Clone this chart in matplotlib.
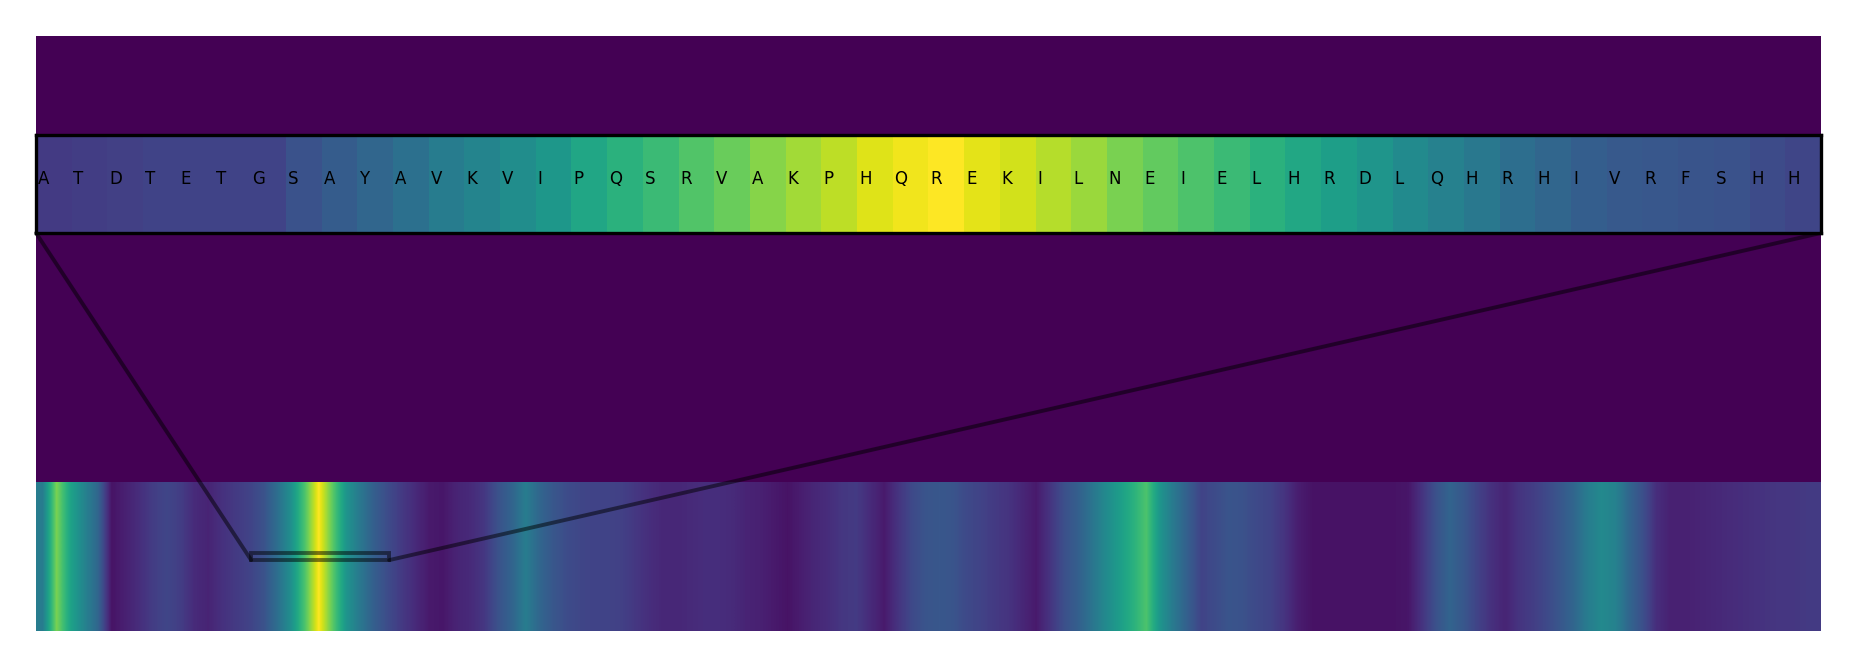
import numpy as np
import matplotlib
matplotlib.use("Agg")
import matplotlib.pyplot as plt
from matplotlib.patches import Rectangle, ConnectionPatch

# ---- data ----
seq_length = 647
bin_size = 5  # residues per track value
track_scores = [
    0.42, 0.80, 0.58, 0.45, 0.33, 0.05, 0.09, 0.13, 0.18, 0.21,
    0.18, 0.12, 0.10, 0.14, 0.17, 0.20, 0.25, 0.36, 0.50, 0.72,
    1.00, 0.75, 0.52, 0.40, 0.30, 0.23, 0.17, 0.12, 0.07, 0.06,
    0.10, 0.12, 0.16, 0.25, 0.32, 0.42, 0.33, 0.27, 0.23, 0.21,
    0.20, 0.20, 0.19, 0.16, 0.13, 0.11, 0.11, 0.12, 0.13, 0.13,
    0.12, 0.10, 0.09, 0.07, 0.05, 0.08, 0.11, 0.13, 0.16, 0.17,
    0.12, 0.07, 0.15, 0.22, 0.26, 0.27, 0.26, 0.22, 0.20, 0.17,
    0.15, 0.11, 0.07, 0.15, 0.24, 0.30, 0.38, 0.47, 0.55, 0.63,
    0.72, 0.52, 0.40, 0.30, 0.20, 0.23, 0.26, 0.25, 0.22, 0.20,
    0.15, 0.08, 0.05, 0.05, 0.05, 0.05, 0.05, 0.05, 0.05, 0.06,
    0.15, 0.25, 0.32, 0.27, 0.20, 0.14, 0.10, 0.15, 0.18, 0.22,
    0.27, 0.33, 0.42, 0.47, 0.44, 0.33, 0.24, 0.13, 0.09, 0.09,
    0.10, 0.11, 0.12, 0.13, 0.14, 0.15, 0.16, 0.16, 0.17, 0.17,
]

window_start = 78
window_residues = list("ATDTETGSAYAVKVIPQSRVAKPHQREKILNEIELHRDLQHRHIVRFSHH")
window_scores = [
    0.17, 0.18, 0.19, 0.20, 0.20, 0.20, 0.20, 0.25, 0.29, 0.33,
    0.37, 0.42, 0.45, 0.49, 0.53, 0.59, 0.64, 0.68, 0.73, 0.77,
    0.82, 0.86, 0.90, 0.95, 0.98, 1.00, 0.96, 0.93, 0.89, 0.85,
    0.80, 0.76, 0.72, 0.68, 0.64, 0.60, 0.56, 0.52, 0.48, 0.44,
    0.40, 0.36, 0.33, 0.30, 0.28, 0.27, 0.26, 0.25, 0.23, 0.21,
]

cmap = plt.get_cmap("viridis")
vmin, vmax = 0.0, 1.0
track_top = 1.0
rect_y = (0.4765, 0.5235)

fig = plt.figure(figsize=(18.57, 6.67), dpi=100)
ax = fig.add_axes([36 / 1857, 36 / 667, 1785 / 1857, 595 / 667])
ax.set_facecolor(cmap(0.0))
n_bins = len(track_scores)
ax.imshow(np.array(track_scores)[None, :], cmap=cmap, vmin=vmin, vmax=vmax,
          aspect="auto", interpolation="bilinear", interpolation_stage="data",
          extent=[0, n_bins * bin_size, 0, track_top], origin="lower")
ax.set_xlim(0, seq_length)
ax.set_ylim(0, 4 * track_top)
ax.set_xticks([])
ax.set_yticks([])
for s in ax.spines.values():
    s.set_visible(False)

axins = ax.inset_axes([0, 0.669, 1, 0.165])
n_win = len(window_scores)
win_end = window_start + n_win
axins.imshow(np.array(window_scores)[None, :], cmap=cmap, vmin=vmin, vmax=vmax,
             aspect="auto", interpolation="nearest",
             extent=[window_start, win_end, rect_y[0], rect_y[1]],
             origin="lower")
axins.set_xlim(window_start, win_end)
axins.set_ylim(*rect_y)
axins.set_xticks([])
axins.set_yticks([])
for s in axins.spines.values():
    s.set_linewidth(2.4)
    s.set_color("black")
ymid = (rect_y[0] + rect_y[1]) / 2
for j, res in enumerate(window_residues):
    axins.text(window_start + j + 0.05, ymid, res, fontsize=12,
               ha="left", va="baseline", color="black")

# zoom indicator: rectangle on the track + two connectors
ind_style = dict(edgecolor="black", alpha=0.5, linewidth=2.8)
ax.add_patch(Rectangle((window_start, rect_y[0]), n_win, rect_y[1] - rect_y[0],
                       facecolor="none", zorder=4.9, **ind_style))
for corner_ax, corner_data in [((0, 0), (window_start, rect_y[0])),
                               ((1, 0), (win_end, rect_y[0]))]:
    con = ConnectionPatch(xyA=corner_ax, coordsA=axins.transAxes,
                          xyB=corner_data, coordsB=ax.transData,
                          arrowstyle="-", zorder=4.99, **ind_style)
    ax.add_artist(con)

fig.savefig("out.png", dpi=100)
